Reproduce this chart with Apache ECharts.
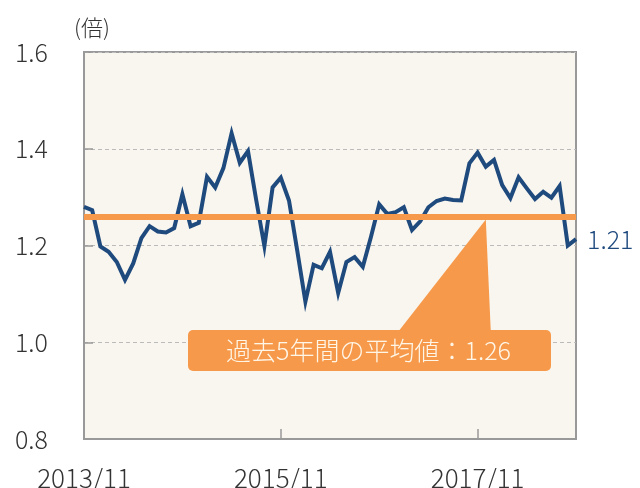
<!DOCTYPE html>
<html><head><meta charset="utf-8">
<script src="https://cdn.jsdelivr.net/npm/echarts@6/dist/echarts.min.js"></script>
<style>html,body{margin:0;padding:0;background:#fff}#c{width:640px;height:488px}</style>
</head><body><div id="c"></div>
<script>
// Monthly categories 2013/11 .. 2018/11
const categories = [];
for (let y = 2013, m = 11; categories.length < 61; ) {
  categories.push(y + '/' + m);
  m++; if (m > 12) { m = 1; y++; }
}
const ratioValues = [
  1.28, 1.273, 1.198, 1.187, 1.166, 1.129, 1.163, 1.215, 1.24, 1.229,
  1.227, 1.236, 1.306, 1.24, 1.247, 1.342, 1.32, 1.36, 1.432, 1.371,
  1.395, 1.294, 1.199, 1.32, 1.34, 1.293, 1.19, 1.084, 1.16, 1.153,
  1.187, 1.102, 1.166, 1.176, 1.156, 1.218, 1.285, 1.265, 1.269, 1.279,
  1.232, 1.25, 1.279, 1.292, 1.297, 1.294, 1.293, 1.37, 1.392, 1.363,
  1.377, 1.325, 1.298, 1.341, 1.318, 1.296, 1.311, 1.299, 1.323, 1.2,
  1.213
];
const averageValue = 1.26;
const yTicks = [0.8, 1.0, 1.2, 1.4, 1.6];
const xLabelIdx = [0, 24, 48];
const avgLabel = '過去5年間の平均値：1.26';
const unitLabel = '(倍)';

const FONT = '"Noto Sans CJK JP", "Noto Sans", sans-serif';
const BLUE = '#1F4A7E';
const ORANGE = '#F6994A';
const W = 300;

const chart = echarts.init(document.getElementById('c'), null, {renderer: 'canvas'});
const option = {
  animation: false,
  textStyle: {fontFamily: FONT, fontWeight: W},
  grid: {left: 84, right: 64, top: 52, bottom: 49, show: true, containLabel: false,
         outerBoundsMode: 'none',
         backgroundColor: '#F9F6EF', borderColor: '#999', borderWidth: 2},
  xAxis: {
    type: 'category', data: categories, boundaryGap: false,
    axisLine: {show: true, lineStyle: {color: '#999', width: 2}},
    axisTick: {show: true, inside: true, length: 10, lineStyle: {color: '#999', width: 1.5},
               interval: (i) => i === 24 || i === 48},
    axisLabel: {interval: (i) => xLabelIdx.includes(i), fontSize: 26, color: '#333', margin: 26,
                fontFamily: FONT, fontWeight: W, showMinLabel: true},
    splitLine: {show: false}
  },
  yAxis: {
    type: 'value', min: yTicks[0], max: yTicks[yTicks.length - 1], interval: 0.2,
    name: unitLabel, nameLocation: 'end', nameGap: 13,
    nameTextStyle: {fontSize: 22, color: '#333', align: 'left', padding: [0, 0, 0, -10], fontFamily: FONT, fontWeight: W},
    axisLine: {show: true, lineStyle: {color: '#999', width: 2}},
    axisTick: {show: true, inside: true, length: 9, lineStyle: {color: '#999', width: 1.5}},
    axisLabel: {fontSize: 25, color: '#333', margin: 36, formatter: v => v.toFixed(1),
                fontFamily: FONT, fontWeight: W, padding: [0, 0, 5, 0]},
    splitLine: {show: true, lineStyle: {color: '#bbb', type: [4, 3], width: 1}}
  },
  series: [
    {
      name: 'avg', type: 'line', data: [], z: 1, silent: true,
      markLine: {symbol: ['none', 'none'], silent: true, label: {show: false},
                 lineStyle: {color: ORANGE, width: 6, type: 'solid'},
                 data: [{yAxis: averageValue}]}
    },
    {
      name: 'ratio', type: 'line', data: ratioValues, z: 3, symbol: 'none',
      lineStyle: {color: BLUE, width: 4, join: 'miter'},
      endLabel: {show: true, formatter: p => Number(p.value).toFixed(2), color: BLUE,
                 fontSize: 25, distance: 11, fontFamily: FONT, fontWeight: W}
    }
  ]
};
chart.setOption(option);

// Callout pointing at the average line
const apex = chart.convertToPixel({gridIndex: 0}, [49, averageValue]);
const boxX = 188, boxY = 330, boxW = 363, boxH = 41;
chart.setOption({
  graphic: [
    {type: 'polygon', z: 10,
     shape: {points: [[apex[0], apex[1] + 3], [398, boxY + 2], [apex[0] + 5, boxY + 2]]},
     style: {fill: ORANGE}},
    {type: 'rect', z: 10, shape: {x: boxX, y: boxY, width: boxW, height: boxH, r: 5},
     style: {fill: ORANGE}},
    {type: 'text', z: 11, x: boxX + boxW / 2 - 1, y: boxY + boxH / 2,
     style: {text: avgLabel, fill: '#FFF6E8', font: W + ' 25px ' + FONT, align: 'center', verticalAlign: 'middle'}}
  ]
});
</script></body></html>
